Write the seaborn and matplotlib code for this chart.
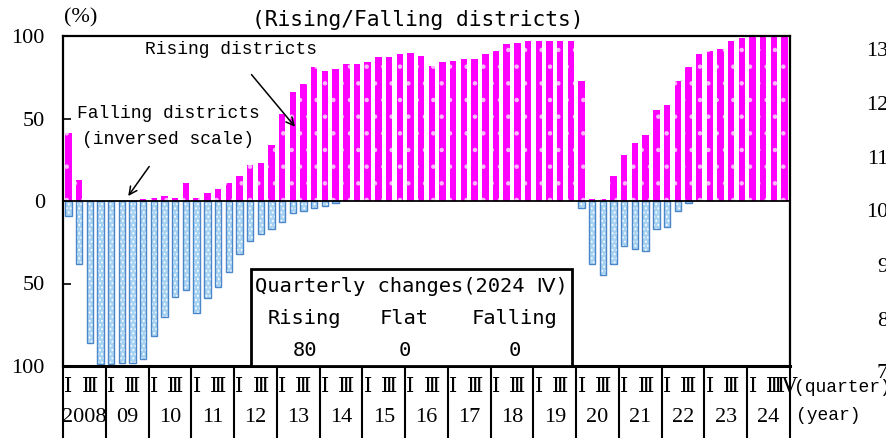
import numpy as np
import pandas as pd
import matplotlib
matplotlib.use("Agg")
import matplotlib.pyplot as plt
import matplotlib.transforms as mtransforms
from matplotlib.patches import Rectangle
import seaborn as sns

# ---- data -------------------------------------------------------------
years = ["2008", "09", "10", "11", "12", "13", "14", "15", "16",
         "17", "18", "19", "20", "21", "22", "23", "24"]
quarter_marks = ["\u2160", "\u2162"]          # I and III under each year
last_quarter_mark = "\u2163"                   # IV for the final quarter

# share of districts with rising prices (%), 2008 Q1 .. 2024 Q4
rising = [41, 13, 0, 0,
          0, 0, 0, 1,
          2, 3, 2, 11,
          2, 5, 7, 11,
          15, 22, 23, 34,
          53, 66, 71, 81,
          79, 80, 83, 83,
          84, 87, 87, 89,
          90, 88, 82, 84,
          85, 86, 86, 89,
          91, 95, 96, 97,
          97, 97, 97, 97,
          73, 1, 1, 15,
          28, 35, 40, 55,
          58, 73, 81, 89,
          91, 92, 97, 99,
          100, 100, 100, 100]

# share of districts with falling prices (%), plotted on an inverted scale
falling = [9, 38, 86, 99,
           99, 98, 98, 96,
           82, 70, 58, 54,
           68, 59, 52, 43,
           32, 24, 20, 17,
           13, 7, 6, 4,
           3, 1, 0, 0,
           0, 0, 0, 0,
           0, 0, 0, 0,
           0, 0, 0, 0,
           0, 0, 0, 0,
           0, 0, 0, 0,
           4, 38, 45, 38,
           27, 29, 30, 17,
           16, 6, 1, 0,
           0, 0, 0, 0,
           0, 0, 0, 0]

summary_title = "Quarterly changes(2024 \u2163)"
summary_heads = ["Rising", "Flat", "Falling"]
summary_counts = [80, 0, 0]

y_ticks = [-100, -50, 0, 50, 100]
y_tick_labels = ["100", "50", "0", "50", "100"]
right_scale = ["13", "12", "11", "10", "9", "8", "7"]

# ---- figure -----------------------------------------------------------
W, H = 886, 438
sns.set_theme(style="white")
plt.rcParams["font.family"] = ["DejaVu Sans", "Noto Sans CJK JP"]
plt.rcParams["hatch.linewidth"] = 0.8

fig = plt.figure(figsize=(W / 100, H / 100), dpi=100)
fig.patch.set_facecolor("white")


def fx(px):
    return px / W


def fy(py):
    return 1 - py / H


ax_left, ax_right, ax_top, ax_bottom = 63, 790, 36, 366
ax = fig.add_axes([fx(ax_left), fy(ax_bottom),
                   fx(ax_right - ax_left), (ax_bottom - ax_top) / H])

n = len(rising)
df = pd.DataFrame({"pos": np.arange(n),
                   "rising": rising,
                   "falling": [-v for v in falling]})

# rising districts: magenta bars with a faint dot pattern
sns.barplot(data=df, x="pos", y="rising", color="#ff00ff", saturation=1,
            width=0.6, linewidth=0, native_scale=True, ax=ax)
rise_patches = list(ax.patches)
for p in rise_patches:
    p.set_edgecolor("#ffb8ff")
    p.set_linewidth(0)
    p.set_hatch(".")

# falling districts: light blue dotted bars with a blue outline
sns.barplot(data=df, x="pos", y="falling", color="#a8d3f2", saturation=1,
            width=0.6, linewidth=0, native_scale=True, ax=ax)
fall_patches = [p for p in ax.patches if p not in rise_patches]
for p in fall_patches:
    p.set_edgecolor("white")
    p.set_linewidth(0)
    p.set_hatch("....")
sns.barplot(data=df[df["falling"] < 0], x="pos", y="falling", color="#4a86c8",
            saturation=1, width=0.6, linewidth=1.0, fill=False,
            native_scale=True, ax=ax)

ax.axhline(0, color="black", lw=1.3, zorder=5)
ax.set_xlim(-0.5, n - 0.5)
ax.set_ylim(-100, 100)
ax.set_xlabel("")
ax.set_ylabel("")
ax.set_xticks([])
ax.set_yticks(y_ticks)
ax.set_yticklabels(y_tick_labels, fontfamily="Liberation Serif", fontsize=16)
ax.tick_params(axis="y", direction="in", length=6, width=1.2, pad=13,
               left=True, right=False, colors="black")
for s in ax.spines.values():
    s.set_visible(True)
    s.set_color("black")
    s.set_linewidth(1.6)
ax.spines["bottom"].set_linewidth(2.2)

# ---- year / quarter band under the axis --------------------------------
trans = mtransforms.blended_transform_factory(ax.transData, ax.transAxes)
band_bottom = (ax_bottom - H) / (ax_bottom - ax_top)
q_row = (ax_bottom - 388) / (ax_bottom - ax_top)
y_row = (ax_bottom - 418) / (ax_bottom - ax_top)
roman_font = ["Liberation Serif", "DejaVu Serif", "Noto Sans CJK JP"]

for k in range(len(years) + 1):
    ax.plot([4 * k - 0.5, 4 * k - 0.5], [0, band_bottom], color="black",
            lw=1.5, transform=trans, clip_on=False)
for k, yr in enumerate(years):
    for j, mark in enumerate(quarter_marks):
        ax.text(4 * k + 2 * j, q_row, mark, transform=trans, ha="center",
                va="center", fontsize=15, family=roman_font, color="black")
    ax.text(4 * k + 1.5, y_row, yr, transform=trans, ha="center",
            va="center", fontsize=16, family="Liberation Serif", color="black")
ax.text(n - 1 + 0.2, q_row, last_quarter_mark, transform=trans, ha="center",
        va="center", fontsize=15, family=roman_font, color="black")

fig.text(fx(794), fy(388), "(quarter)", ha="left", va="center",
         fontsize=13, family="Liberation Mono", color="black")
fig.text(fx(796), fy(416), "(year)", ha="left", va="center",
         fontsize=13, family="Liberation Mono", color="black")

# ---- secondary scale numbers at the right edge -------------------------
for lab, py in zip(right_scale, [52, 106, 160, 213, 267, 321, 374]):
    fig.text(fx(888), fy(py), lab, ha="right", va="center", fontsize=16,
             family="Liberation Serif", color="black")

# ---- titles and notes -------------------------------------------------
fig.text(fx(418), fy(20), "(Rising/Falling districts)", ha="center",
         va="center", fontsize=15.3, family="DejaVu Sans Mono", color="black")
fig.text(fx(64), fy(18), "(%)", ha="left", va="center", fontsize=16,
         family="Liberation Serif", color="black")

ax.annotate("Rising districts", xy=(21.2, 45), xycoords="data",
            xytext=(fx(231), fy(50)), textcoords="figure fraction",
            ha="center", va="center", fontsize=12.9, family="Liberation Mono",
            color="black",
            arrowprops=dict(arrowstyle="->", color="black", lw=1.1,
                            shrinkA=12, shrinkB=0, mutation_scale=14))
ax.text(fx(168), fy(113), "Falling districts", transform=fig.transFigure,
        ha="center", va="center", fontsize=12.9, family="Liberation Mono",
        color="black")
ax.annotate("(inversed scale)", xy=(5.6, 3), xycoords="data",
            xytext=(fx(168), fy(140)), textcoords="figure fraction",
            ha="center", va="center", fontsize=12.9, family="Liberation Mono",
            color="black",
            arrowprops=dict(arrowstyle="->", color="black", lw=1.1,
                            shrinkA=13, shrinkB=0, mutation_scale=14))

# ---- summary box --------------------------------------------------------
box = Rectangle((fx(251), fy(366)), fx(572 - 251), (366 - 269) / H,
                transform=fig.transFigure, facecolor="white",
                edgecolor="black", lw=2.0, zorder=10)
fig.add_artist(box)
mono = ["DejaVu Sans Mono", "DejaVu Sans", "Noto Sans CJK JP"]
fig.text(fx(411), fy(286), summary_title, ha="center", va="center",
         fontsize=14.7, family=mono, color="black", zorder=11)
for cx, head, cnt in zip([304, 404, 514], summary_heads, summary_counts):
    fig.text(fx(cx), fy(319), head, ha="center", va="center", fontsize=14.7,
             family=mono, color="black", zorder=11)
    fig.text(fx(cx + 1), fy(351), str(cnt), ha="center", va="center",
             fontsize=14.7, family=mono, color="black", zorder=11)

fig.savefig("out.png", dpi=100, facecolor="white")
